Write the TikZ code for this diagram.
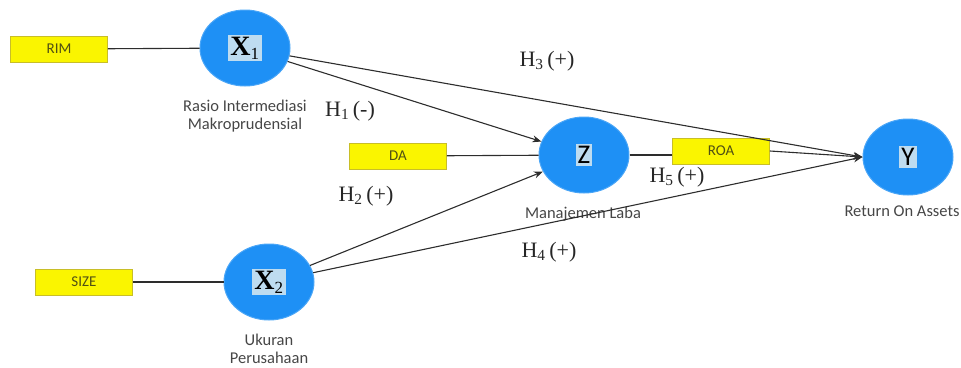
\documentclass[tikz,border=0pt]{standalone}
\usepackage{fontspec}
\setmainfont{Liberation Serif}
\newfontfamily\lblfont{Carlito}
\usetikzlibrary{shapes.geometric,arrows.meta}
\definecolor{latblue}{RGB}{30,144,245}
\definecolor{hilite}{RGB}{190,220,240}
\definecolor{boxyellow}{RGB}{250,245,0}
\definecolor{boxedge}{RGB}{200,190,40}
\definecolor{boxtext}{RGB}{80,80,20}
\definecolor{linegray}{RGB}{45,45,45}
\definecolor{lbltext}{RGB}{70,70,70}
\begin{document}
\begin{tikzpicture}[x=1pt,y=-1pt,
  latent/.style={ellipse,fill=latblue,draw=latblue!80!white,line width=1pt,minimum width=90pt,minimum height=76pt,inner sep=0pt},
  tag/.style={fill=hilite,inner sep=2pt},
  indic/.style={rectangle,fill=boxyellow,draw=boxedge,line width=0.8pt,minimum width=97pt,minimum height=26pt,inner sep=0pt,font=\lblfont\fontsize{15}{16}\selectfont,text=boxtext},
  captext/.style={font=\lblfont\fontsize{16.5}{18}\selectfont,text=lbltext,align=center},
  hyp/.style={font=\fontsize{22}{24}\selectfont,text=black!85},
  conn/.style={draw=linegray,line width=1.1pt},
  arr/.style={conn,-{Stealth[length=9pt,width=7pt]}}]
\useasboundingbox (0,0) rectangle (961,367);
% latent variables
\node[latent] (x1) at (245,48) {};
\node[tag,font=\fontsize{28}{30}\selectfont\bfseries] at (x1) {X\textsubscript{\normalfont\fontsize{17}{17}\selectfont 1}};
\node[latent] (x2) at (269,282) {};
\node[tag,font=\fontsize{28}{30}\selectfont\bfseries] at (x2) {X\textsubscript{\normalfont\fontsize{17}{17}\selectfont 2}};
\node[latent] (z) at (584,155) {};
\node[tag,font=\lblfont\fontsize{27}{29}\selectfont] at (z) {Z};
\node[latent] (y) at (908,157) {};
\node[tag,font=\lblfont\fontsize{27}{29}\selectfont] at (y) {Y};
% indicators
\node[indic] (rim) at (59,49) {RIM};
\node[indic] (da) at (398,156) {DA};
\node[indic] (size) at (84,282) {SIZE};
\node[indic] (roa) at (721,151) {ROA};
% captions
\node[captext] (c1) at (245,116) {Rasio Intermediasi\\Makroprudensial};
\node[captext] (c2) at (269,349) {Ukuran\\Perusahaan};
\node[captext] (c3) at (583,214) {Manajemen Laba};
\node[captext] (c4) at (902,211) {Return On Assets};
% connectors
\draw[conn] (rim) -- (x1);
\draw[conn] (da) -- (z);
\draw[conn] (size) -- (x2);
\draw[conn] (z) -- (roa.west |- z.east);
\draw[arr] (roa.east) -- (y.west);
\draw[arr] (x1) -- (z);
\draw[arr] (x1) -- (y.west);
\draw[arr] (x2) -- (z);
\draw[arr] (x2) -- (y.west);
% hypotheses
\node[hyp] (h1) at (350,111) {H\textsubscript{1}\,(-)};
\node[hyp] (h2) at (366,196) {H\textsubscript{2}\,(+)};
\node[hyp] (h3) at (547,61) {H\textsubscript{3}\,(+)};
\node[hyp] (h4) at (549,252) {H\textsubscript{4}\,(+)};
\node[hyp] (h5) at (677,177) {H\textsubscript{5}\,(+)};
\end{tikzpicture}
\end{document}
